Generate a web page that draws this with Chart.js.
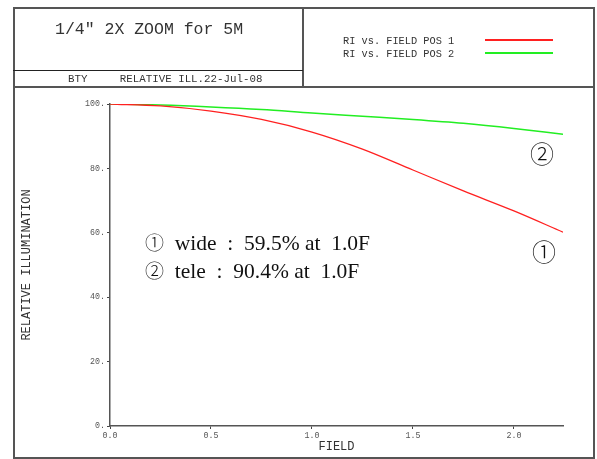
<!DOCTYPE html>
<html>
<head>
<meta charset="utf-8">
<script src="https://cdn.jsdelivr.net/npm/chart.js@4.4.0/dist/chart.umd.min.js"></script>
<style>
    body { margin: 0; background: #fff; }
    #wrap { position: relative; width: 597px; height: 459px; overflow: hidden; }
    #wrap canvas { position: absolute; left: 0; top: 0; }
    .box { position: absolute; border: 0 solid #555; box-sizing: border-box; }
    .txt { position: absolute; white-space: pre; color: #333; line-height: 1; }
    .mono { font-family: "Liberation Mono", "DejaVu Sans Mono", monospace; }
    .serif { font-family: "Liberation Serif", serif; color: #111; }
    .circ { font-family: "Noto Sans CJK KR", "Noto Sans CJK SC", sans-serif; font-weight: 300; }
    .leg { position: absolute; height: 2px; }
</style>
</head>
<body>
<div id="wrap">
    <canvas id="ri-chart" width="597" height="459"></canvas>

    <!-- frame and header boxes -->
    <div class="box" style="left:13px; top:7px; width:582px; height:452px; border-width:2px;"></div>
    <div class="box" style="left:13px; top:86px; width:582px; height:0; border-top-width:2px;"></div>
    <div class="box" style="left:302px; top:7px; width:0; height:81px; border-left-width:2px;"></div>
    <div class="box" style="left:13px; top:70px; width:290px; height:0; border-top-width:1.5px; border-color:#222;"></div>

    <div class="txt mono" style="left:55px; top:22px; font-size:16.5px;">1/4" 2X ZOOM for 5M</div>
    <div class="txt mono" style="left:68px; top:74px; font-size:10.8px;">BTY     RELATIVE ILL.22-Jul-08</div>

    <div class="txt mono" id="leg1" style="left:343px; top:36px; font-size:10.3px;"></div>
    <div class="txt mono" id="leg2" style="left:343px; top:49px; font-size:10.3px;"></div>
    <div class="leg" id="legline1" style="left:485px; top:39px; width:68px; height:1.5px;"></div>
    <div class="leg" id="legline2" style="left:485px; top:52px; width:68px;"></div>

    <!-- notes written on the plot -->
    <div class="txt serif" style="left:145px; top:232px; font-size:21.5px;"><span class="circ" style="font-size:19px;">①</span>  wide  :  59.5% at  1.0F</div>
    <div class="txt serif" style="left:145px; top:260px; font-size:21.5px;"><span class="circ" style="font-size:19px;">②</span>  tele  :  90.4% at  1.0F</div>
    <div class="txt circ" style="left:530px; top:141px; font-size:24px; color:#111;">②</div>
    <div class="txt circ" style="left:532px; top:239px; font-size:24px; color:#111;">①</div>
</div>

<script>
    /*
    *   relative illumination vs field
    */
    var fieldPos = [0, 0.25, 0.5, 0.75, 1.0, 1.25, 1.5, 1.75, 2.0, 2.243];
    var riWide = [100, 99.4, 97.8, 95.2, 91.3, 86.0, 79.5, 73.0, 66.8, 60.2];
    var riTele = [100, 99.7, 99.1, 98.3, 97.2, 96.2, 95.2, 94.0, 92.4, 90.6];
    var seriesNames = ["RI vs. FIELD POS 1", "RI vs. FIELD POS 2"];
    var seriesColors = ["#ff2020", "#22ee22"];
    var yTicks = [0, 20, 40, 60, 80, 100];
    var xTicks = [0.0, 0.5, 1.0, 1.5, 2.0];

    // header legend, same names and colours as the datasets
    document.getElementById("leg1").textContent = seriesNames[0];
    document.getElementById("leg2").textContent = seriesNames[1];
    document.getElementById("legline1").style.background = seriesColors[0];
    document.getElementById("legline2").style.background = seriesColors[1];

    function toPoints(xs, ys) {
        var pts = [];
        for (var i = 0; i < xs.length; i++) {
            pts.push({x: xs[i], y: ys[i]});
        }
        return pts;
    }

    var monoFont = "'Liberation Mono', 'DejaVu Sans Mono', monospace";

    var ctx = document.getElementById("ri-chart").getContext('2d');
    var riChart = new Chart(ctx, {
        type: 'line',
        data: {
            datasets: [{
                label: seriesNames[0],
                data: toPoints(fieldPos, riWide),
                borderColor: seriesColors[0],
                borderWidth: 1.3,
                pointRadius: 0,
                cubicInterpolationMode: 'monotone',
                fill: false
            }, {
                label: seriesNames[1],
                data: toPoints(fieldPos, riTele),
                borderColor: seriesColors[1],
                borderWidth: 1.5,
                pointRadius: 0,
                cubicInterpolationMode: 'monotone',
                fill: false
            }]
        },
        options: {
            responsive: false,
            animation: false,
            layout: {
                padding: {left: 0, top: 104, right: 34, bottom: 0}
            },
            plugins: {
                legend: {display: false},
                tooltip: {enabled: false}
            },
            scales: {
                x: {
                    type: 'linear',
                    min: 0,
                    max: fieldPos[fieldPos.length - 1],
                    afterBuildTicks: function(scale) {
                        scale.ticks = xTicks.map(function(v) { return {value: v}; });
                    },
                    afterFit: function(scale) {
                        scale.height = 33;
                    },
                    ticks: {
                        color: '#555',
                        padding: 2,
                        maxRotation: 0,
                        font: {family: monoFont, size: 8.3},
                        callback: function(v) { return Number(v).toFixed(1); }
                    },
                    grid: {drawOnChartArea: false, drawTicks: true, tickLength: 3, color: '#444'},
                    border: {color: '#555', width: 1.5},
                    title: {
                        display: true,
                        text: 'FIELD',
                        color: '#333',
                        padding: {top: 0, bottom: 4.5},
                        font: {family: monoFont, size: 12}
                    }
                },
                y: {
                    min: 0,
                    max: 100,
                    afterBuildTicks: function(scale) {
                        scale.ticks = yTicks.map(function(v) { return {value: v}; });
                    },
                    afterFit: function(scale) {
                        scale.width = 110;
                    },
                    ticks: {
                        color: '#555',
                        padding: 2,
                        font: {family: monoFont, size: 8.3},
                        callback: function(v) { return v + '.'; }
                    },
                    grid: {drawOnChartArea: false, drawTicks: true, tickLength: 3, color: '#444'},
                    border: {color: '#555', width: 1.5},
                    title: {
                        display: true,
                        text: 'RELATIVE ILLUMINATION',
                        color: '#333',
                        padding: {top: 20, bottom: 0},
                        font: {family: monoFont, size: 12}
                    }
                }
            }
        }
    });
</script>
</body>
</html>
